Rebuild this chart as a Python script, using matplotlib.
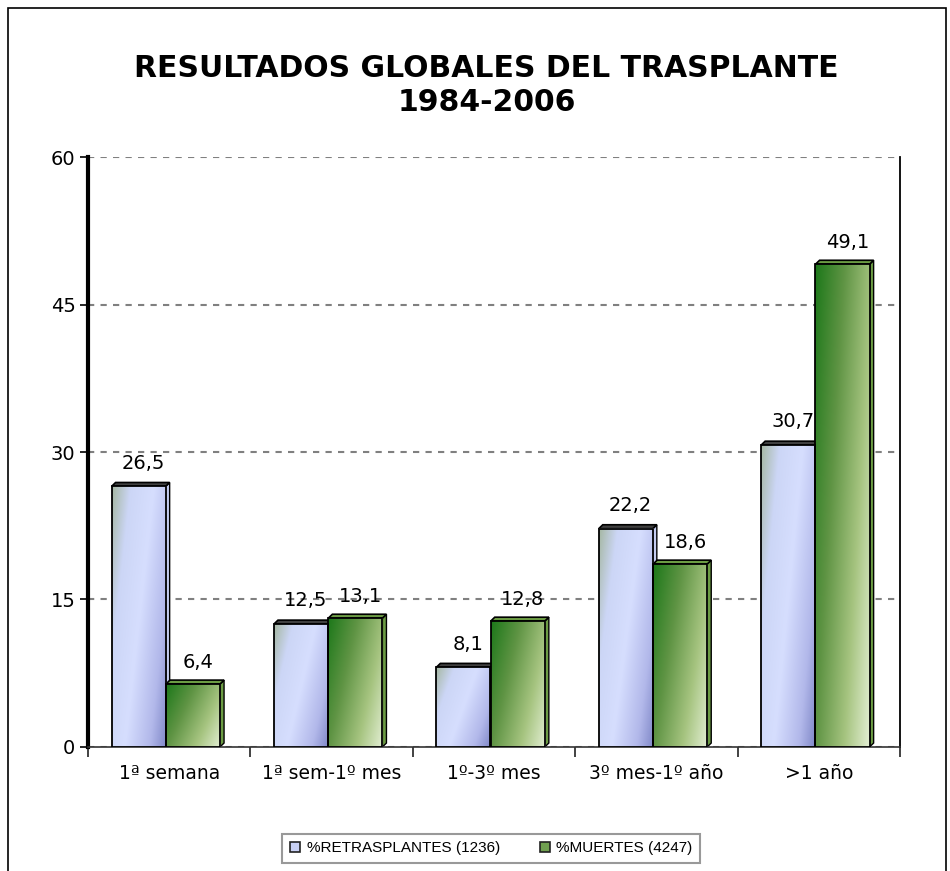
import numpy as np
import matplotlib
matplotlib.use("Agg")
from matplotlib import pyplot as plt
from matplotlib.colors import LinearSegmentedColormap
from matplotlib.patches import Rectangle, Polygon, Patch

categories = ['1ª semana', '1ª sem-1º mes', '1º-3º mes', '3º mes-1º año', '>1 año']
retrasplantes = [26.5, 12.5, 8.1, 22.2, 30.7]
muertes = [6.4, 13.1, 12.8, 18.6, 49.1]
labels_ret = ['26,5', '12,5', '8,1', '22,2', '30,7']
labels_mue = ['6,4', '13,1', '12,8', '18,6', '49,1']
series_names = ['%RETRASPLANTES (1236)', '%MUERTES (4247)']
yticks = [0, 15, 30, 45, 60]

blue_cmap = LinearSegmentedColormap.from_list(
    'blue', [(0, '#a6b8a4'), (0.22, '#ccd6f6'), (0.5, '#d6defe'), (0.8, '#b2b8ea'), (1, '#8088c8')])
green_cmap = LinearSegmentedColormap.from_list(
    'green', [(0, '#1d781a'), (0.35, '#5f9444'), (0.7, '#a6c480'), (1, '#e2eed2')])

fig = plt.figure(figsize=(9.5, 8.71), dpi=100)
ax = fig.add_axes([0.0926, 0.1424, 0.8547, 0.6773])

bar_w = 0.333
dx, dy = 0.025, 0.4

yy, xx = np.mgrid[0:1:200j, 0:1:60j]
grad = 0.65 * xx + 0.35 * yy


def draw_bar(x0, h, cmap, side_color, top_color):
    x1 = x0 + bar_w
    # depth faces
    side = Polygon([(x1, 0), (x1 + dx, dy), (x1 + dx, h + dy), (x1, h)],
                   closed=True, facecolor=side_color, edgecolor='black', lw=1, zorder=2)
    top = Polygon([(x0, h), (x0 + dx, h + dy), (x1 + dx, h + dy), (x1, h)],
                  closed=True, facecolor=top_color, edgecolor='black', lw=1.2, zorder=2)
    ax.add_patch(side)
    ax.add_patch(top)
    ax.imshow(grad, extent=[x0, x1, 0, h], cmap=cmap, aspect='auto',
              interpolation='bicubic', zorder=3)
    ax.add_patch(Rectangle((x0, 0), bar_w, h, fill=False, edgecolor='black', lw=1.3, zorder=4))


for i in range(len(categories)):
    xb = i - 0.355
    xg = i - 0.02
    draw_bar(xb, retrasplantes[i], blue_cmap, '#c4ccf0', '#404040')
    draw_bar(xg, muertes[i], green_cmap, '#6c9c44', '#6c9c44')
    ax.text(xb + bar_w / 2 + 0.03, retrasplantes[i] + 1.4, labels_ret[i],
            ha='center', va='bottom', fontsize=14, zorder=5)
    ax.text(xg + bar_w / 2 + 0.03, muertes[i] + 1.2, labels_mue[i],
            ha='center', va='bottom', fontsize=14, zorder=5)

ax.set_xlim(-0.5, 4.5)
ax.set_ylim(0, 60)
ax.set_yticks(yticks)
ax.set_yticklabels([str(v) for v in yticks], fontsize=14)
ax.set_xticks(range(len(categories)))
ax.set_xticklabels(categories, fontsize=13.5)
ax.set_xticks(np.arange(-0.5, 5, 1), minor=True)
ax.tick_params(axis='x', which='major', length=0, pad=12)
ax.tick_params(axis='x', which='minor', length=7, width=1.2, direction='out', color='#222222')
ax.tick_params(axis='y', length=6, width=1.2, direction='out', pad=3)

ax.yaxis.grid(True, linestyle=(0, (3, 3)), color='#808080', lw=1.5, zorder=0)
ax.set_axisbelow(True)

ax.spines['top'].set_visible(False)
ax.spines['left'].set_linewidth(3)
ax.spines['left'].set_color('black')
ax.spines['right'].set_linewidth(1.3)
ax.spines['bottom'].set_linewidth(1.2)
ax.spines['bottom'].set_color('#333333')

fig.text(0.512, 0.902, 'RESULTADOS GLOBALES DEL TRASPLANTE\n1984-2006',
         ha='center', va='center', fontsize=21.5, fontweight='bold', linespacing=1.2)

handles = [Patch(facecolor='#c8d0f4', edgecolor='#222222', lw=1.2),
           Patch(facecolor='#70a050', edgecolor='#222222', lw=1.2)]
leg = fig.legend(handles, series_names, loc='center', bbox_to_anchor=(0.517, 0.026),
                 ncol=2, fancybox=False, handlelength=0.7, handleheight=0.7,
                 handletextpad=0.4, columnspacing=2.6, borderpad=0.5,
                 prop={'family': 'Liberation Sans', 'size': 11})
leg.get_frame().set_edgecolor('#808080')
leg.get_frame().set_linewidth(1.5)

# outer frame of the chart
fig.patches.append(Rectangle((8 / 950, -0.05), 938 / 950, 1.05 - 8 / 871,
                             transform=fig.transFigure, fill=False,
                             edgecolor='black', lw=1.2))

fig.savefig('out.png', dpi=100)
